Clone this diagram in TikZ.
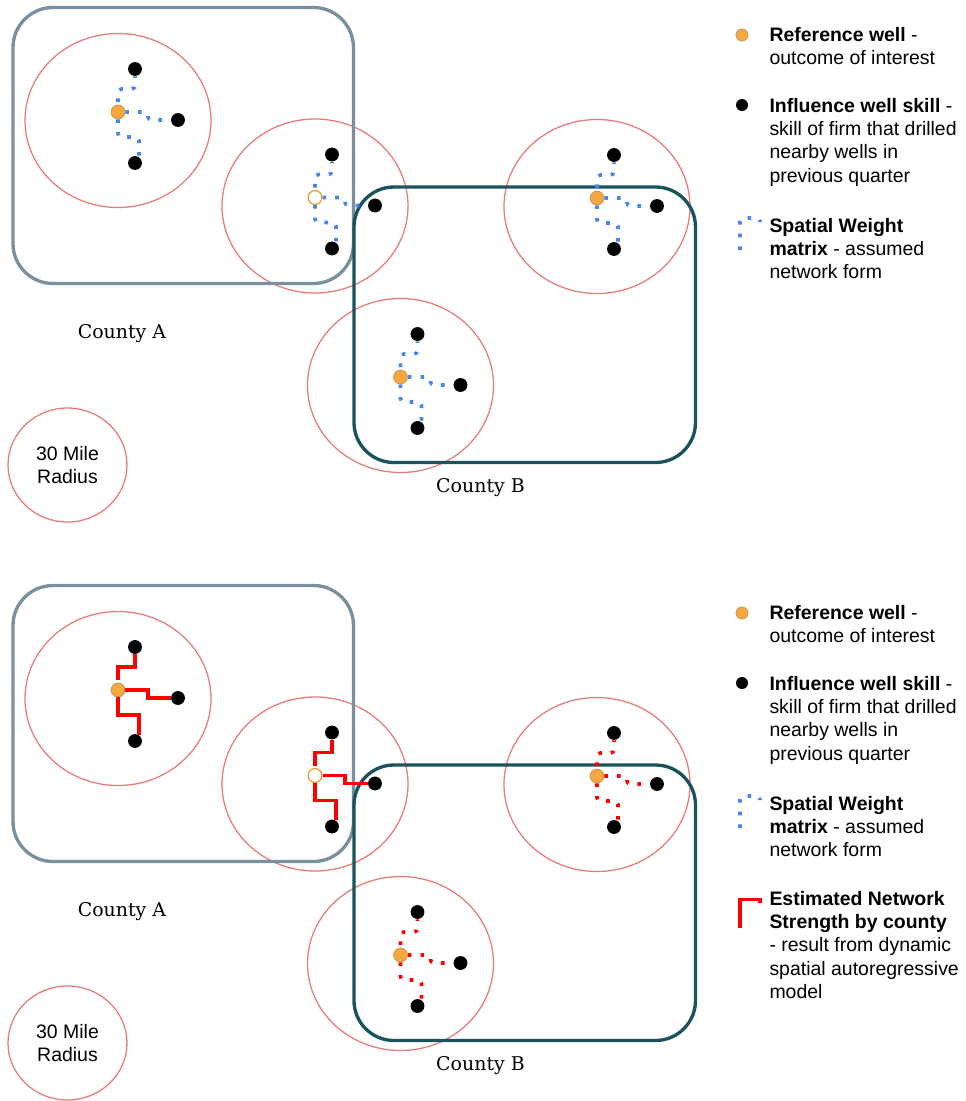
\documentclass[tikz,border=0pt]{standalone}
\usepackage{fontspec}
\setsansfont{Liberation Sans}
\newfontfamily\countyfont{DejaVu Serif}
\usetikzlibrary{calc}

\definecolor{refor}{RGB}{246,168,62}
\definecolor{refedge}{RGB}{196,150,86}
\definecolor{hollowor}{RGB}{232,152,40}
\definecolor{ringred}{RGB}{232,122,122}
\definecolor{ctyA}{RGB}{122,144,156}
\definecolor{ctyB}{RGB}{26,83,92}
\definecolor{wblue}{RGB}{74,134,232}

\tikzset{every picture/.style={line width=0.75pt},
  ring/.style={draw=ringred, line width=0.95pt},
  countyA/.style={draw=ctyA, line width=2.5pt, rounded corners=30pt},
  countyB/.style={draw=ctyB, line width=2.5pt, rounded corners=30pt},
  refwell/.style={circle, fill=refor, draw=refedge, line width=0.6pt, minimum size=10.4pt, inner sep=0pt},
  hollowwell/.style={circle, fill=white, draw=hollowor, line width=0.9pt, minimum size=10.4pt, inner sep=0pt},
  infwell/.style={circle, fill=black, minimum size=10.4pt, inner sep=0pt},
  weight/.style={draw=wblue, line width=2.7pt, dash pattern=on 2.7pt off 6.8pt, rounded corners=2.5pt, line join=round},
  weakstrength/.style={draw=red, line width=2.7pt, dash pattern=on 2.7pt off 6.8pt, rounded corners=2.5pt, line join=round},
  strength/.style={draw=red, line width=2.5pt},
  county/.style={font=\countyfont\fontsize{14.2}{17}\selectfont, inner sep=0pt},
  legend/.style={font=\sffamily\fontsize{14.6}{17.55}\selectfont, align=left, inner sep=0pt, anchor=base west}
}

\begin{document}
\begin{tikzpicture}[x=0.75pt,y=0.75pt,yscale=-1,xscale=1]
\useasboundingbox (0,0) rectangle (966,1101);

%%%%%%%%%%%%%%%% upper panel: assumed network

%Shape: Ellipse [radius rings]
\draw[ring] (118,120.5) ellipse [x radius=93, y radius=87];
\draw[ring] (315,206) ellipse [x radius=93, y radius=87];
\draw[ring] (597,206.5) ellipse [x radius=93, y radius=87];
\draw[ring] (400.5,385.5) ellipse [x radius=93, y radius=87];
\draw[ring] (67.5,465) ellipse [x radius=59.5, y radius=57];

%Shape: Rounded Rect [counties]
\draw[countyA] (13,7.5) rectangle (353.5,283.5);
\draw[countyB] (354,187) rectangle (695.5,462.5);

% wells
\node[refwell] (ref1) at (118,112) {};
\node[infwell] (nor1) at (135,69) {};
\node[infwell] (eas1) at (178,120) {};
\node[infwell] (sou1) at (135,163) {};
\node[hollowwell] (ref2) at (315,197.5) {};
\node[infwell] (nor2) at (332,154.5) {};
\node[infwell] (eas2) at (375,205.5) {};
\node[infwell] (sou2) at (332,248.5) {};
\node[refwell] (ref3) at (597,198) {};
\node[infwell] (nor3) at (614,155) {};
\node[infwell] (eas3) at (657,206) {};
\node[infwell] (sou3) at (614,249) {};
\node[refwell] (ref4) at (400.5,377) {};
\node[infwell] (nor4) at (417.5,334) {};
\node[infwell] (eas4) at (460.5,385) {};
\node[infwell] (sou4) at (417.5,428) {};

% spatial weights
\draw[weight] ($(ref1)+(0,-10)$) |- ($(nor1)+(0,20)$) -- (nor1);
\draw[weight] (ref1) -- ++(30,0) |- (eas1);
\draw[weight] (ref1) -- ++(0,25) -| ($(sou1.north)+(4,1)$);
\draw[weight] ($(ref2)+(0,-10)$) |- ($(nor2)+(0,20)$) -- (nor2);
\draw[weight] (ref2) -- ++(30,0) |- (eas2);
\draw[weight] (ref2) -- ++(0,25) -| ($(sou2.north)+(4,1)$);
\draw[weight] ($(ref3)+(0,-10)$) |- ($(nor3)+(0,20)$) -- (nor3);
\draw[weight] (ref3) -- ++(30,0) |- (eas3);
\draw[weight] (ref3) -- ++(0,25) -| ($(sou3.north)+(4,1)$);
\draw[weight] ($(ref4)+(0,-10)$) |- ($(nor4)+(0,20)$) -- (nor4);
\draw[weight] (ref4) -- ++(30,0) |- (eas4);
\draw[weight] (ref4) -- ++(0,25) -| ($(sou4.north)+(4,1)$);

% Text Node
\node[county, anchor=base] (ctyA1) at (122,338.5) {County A};
% Text Node
\node[county, anchor=base] (ctyB1) at (480.5,492) {County B};
% Text Node
\node[legend, anchor=center, align=center] (rad1) at (67.5,465) {30 Mile\\Radius};

% legend (base = last line)
\node[refwell, minimum size=9pt] (keyref1) at (742,35) {};
\node[infwell, minimum size=9pt] (keyinf1) at (742,105) {};
\draw[weight] (740,250) -- (740,218) -- (760,218) -- (760,222);
\node[legend] (txtref1) at (769,64.4) {\textbf{Reference well} -\\outcome of interest};
\node[legend] (txtinf1) at (769,182.2) {\textbf{Influence well skill} -\\skill of firm that drilled\\nearby wells in\\previous quarter};
\node[legend] (txtwgt1) at (769,278.8) {\textbf{Spatial Weight}\\\textbf{matrix} - assumed\\network form};

%%%%%%%%%%%%%%%% lower panel: estimated strength

%Shape: Ellipse [radius rings]
\draw[ring] (118,698.5) ellipse [x radius=93, y radius=87];
\draw[ring] (315,784) ellipse [x radius=93, y radius=87];
\draw[ring] (597,784.5) ellipse [x radius=93, y radius=87];
\draw[ring] (400.5,963.5) ellipse [x radius=93, y radius=87];
\draw[ring] (67.5,1043) ellipse [x radius=59.5, y radius=57];

%Shape: Rounded Rect [counties]
\draw[countyA] (13,585.5) rectangle (353.5,861.5);
\draw[countyB] (354,765) rectangle (695.5,1040.5);

% wells
\node[refwell] (ref5) at (118,690) {};
\node[infwell] (nor5) at (135,647) {};
\node[infwell] (eas5) at (178,698) {};
\node[infwell] (sou5) at (135,741) {};
\node[hollowwell] (ref6) at (315,775.5) {};
\node[infwell] (nor6) at (332,732.5) {};
\node[infwell] (eas6) at (375,783.5) {};
\node[infwell] (sou6) at (332,826.5) {};
\node[refwell] (ref7) at (597,776) {};
\node[infwell] (nor7) at (614,733) {};
\node[infwell] (eas7) at (657,784) {};
\node[infwell] (sou7) at (614,827) {};
\node[refwell] (ref8) at (400.5,955) {};
\node[infwell] (nor8) at (417.5,912) {};
\node[infwell] (eas8) at (460.5,963) {};
\node[infwell] (sou8) at (417.5,1006) {};

% network strength, county A
\draw[strength] ($(ref5)+(0,-10)$) |- ($(nor5)+(0,20)$) -- (nor5);
\draw[strength] (ref5) -- ++(30,0) |- (eas5);
\draw[strength] (ref5) -- ++(0,25) -| ($(sou5.north)+(4,1)$);
\draw[strength] ($(ref6)+(0,-10)$) |- ($(nor6)+(0,20)$) -- (nor6);
\draw[strength] (ref6) -- ++(30,0) |- (eas6);
\draw[strength] (ref6) -- ++(0,25) -| ($(sou6.north)+(4,1)$);
% network strength, county B
\draw[weakstrength] ($(ref7)+(0,-10)$) |- ($(nor7)+(0,20)$) -- (nor7);
\draw[weakstrength] (ref7) -- ++(30,0) |- (eas7);
\draw[weakstrength] (ref7) -- ++(0,25) -| ($(sou7.north)+(4,1)$);
\draw[weakstrength] ($(ref8)+(0,-10)$) |- ($(nor8)+(0,20)$) -- (nor8);
\draw[weakstrength] (ref8) -- ++(30,0) |- (eas8);
\draw[weakstrength] (ref8) -- ++(0,25) -| ($(sou8.north)+(4,1)$);

% Text Node
\node[county, anchor=base] (ctyA2) at (122,916.5) {County A};
% Text Node
\node[county, anchor=base] (ctyB2) at (480.5,1070) {County B};
% Text Node
\node[legend, anchor=center, align=center] (rad2) at (67.5,1043) {30 Mile\\Radius};

% legend (base = last line)
\node[refwell, minimum size=9pt] (keyref2) at (742,613) {};
\node[infwell, minimum size=9pt] (keyinf2) at (742,683) {};
\draw[weight] (740,828) -- (740,796) -- (760,796) -- (760,800);
\draw[strength] (740,928) -- (740,899.5) -- (760,899.5) -- (760,903);
\node[legend] (txtref2) at (769,642.4) {\textbf{Reference well} -\\outcome of interest};
\node[legend] (txtinf2) at (769,760.2) {\textbf{Influence well skill} -\\skill of firm that drilled\\nearby wells in\\previous quarter};
\node[legend] (txtwgt2) at (769,856.8) {\textbf{Spatial Weight}\\\textbf{matrix} - assumed\\network form};
\node[legend] (txtest2) at (769,998.6) {\textbf{Estimated Network}\\\textbf{Strength by county}\\- result from dynamic\\spatial autoregressive\\model};

\end{tikzpicture}
\end{document}
